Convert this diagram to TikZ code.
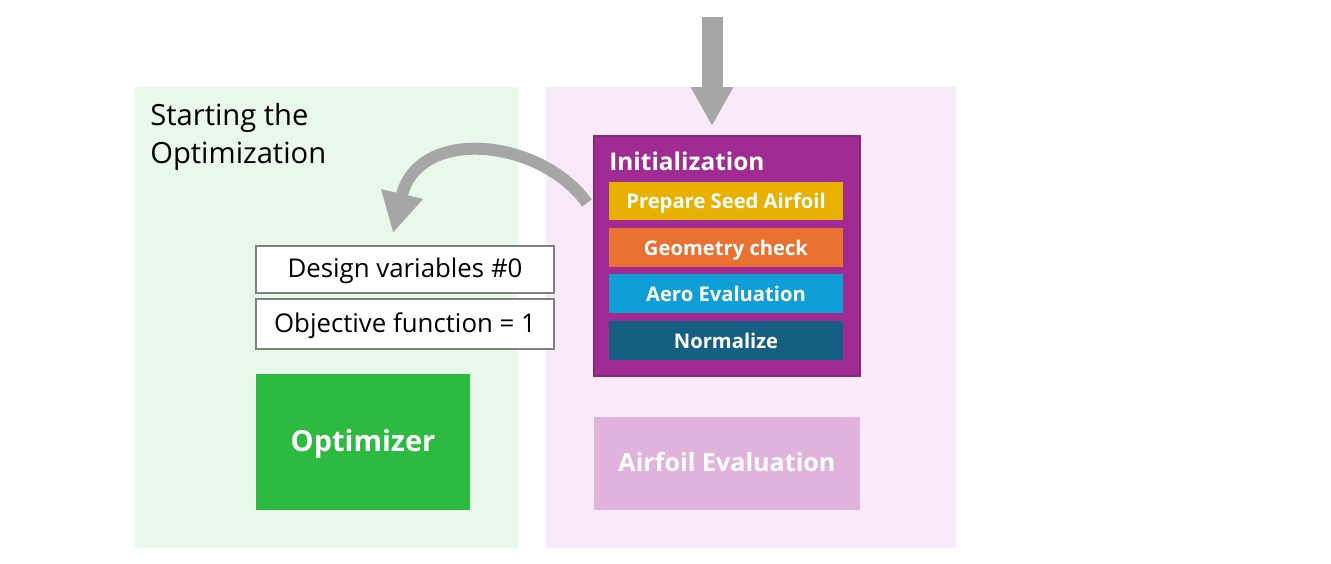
\documentclass[tikz,border=0pt]{standalone}
\usepackage{fontspec}
\setmainfont{Open Sans}
\usetikzlibrary{arrows.meta,positioning}

\definecolor{optgreenbg}{HTML}{E8F8EA}
\definecolor{evalpinkbg}{HTML}{F9EAF9}
\definecolor{initpurple}{HTML}{A02B93}
\definecolor{seedyellow}{HTML}{E8B000}
\definecolor{geoorange}{HTML}{E97132}
\definecolor{aeroblue}{HTML}{0F9ED5}
\definecolor{normblue}{HTML}{156082}
\definecolor{airfoilpink}{HTML}{DFB3DC}
\definecolor{optgreen}{HTML}{2DBA40}
\definecolor{arrowgray}{HTML}{A6A6A6}

\tikzset{
  panel/.style={minimum width=#1, minimum height=9.22cm, inner sep=0pt},
  stepbox/.style={fill=#1, minimum width=4.68cm, minimum height=0.78cm, inner sep=0pt,
    text=white, font=\fontsize{11.5}{13}\selectfont\bfseries, text height=1.7ex, text depth=0.1ex},
  valbox/.style={draw=black!50, line width=0.9pt, fill=white, minimum width=5.96cm,
    inner sep=0pt, font=\fontsize{14.7}{17}\selectfont, text height=1.9ex, text depth=0.1ex},
  bigarrow/.style={draw=arrowgray, line width=#1},
}

\begin{document}
\begin{tikzpicture}[x=0.02cm, y=-0.02cm]
\useasboundingbox (0,0) rectangle (1331,564);

% background panels
\node[panel=7.66cm, fill=optgreenbg] (optpanel) at (326.5,317.5) {};
\node[panel=8.2cm, fill=evalpinkbg] (evalpanel) at (751,317.5) {};

\node[anchor=north west, align=left, inner sep=0pt,
  font=\fontsize{16.6}{21.5}\selectfont] (starttext) at (150,103)
  {Starting the\\Optimization};

% initialization block
\node[fill=initpurple, draw=initpurple!85!black, line width=0.8pt,
  minimum width=5.32cm, minimum height=4.8cm, inner sep=0pt] (init) at (727,256) {};
\node[anchor=west, inner sep=0pt, text=white,
  font=\fontsize{13.9}{17}\selectfont\bfseries] (inittitle) at (609,161) {Initialization};
\node[stepbox=seedyellow] (seed) at (726,201) {Prepare Seed Airfoil};
\node[stepbox=geoorange] (geo) at (726,247.5) {Geometry check};
\node[stepbox=aeroblue] (aero) at (726,293.5) {Aero Evaluation};
\node[stepbox=normblue] (norm) at (726,340.5) {Normalize};

\node[fill=airfoilpink, minimum width=5.32cm, minimum height=1.86cm, inner sep=0pt,
  text=white, font=\fontsize{14.3}{17}\selectfont\bfseries,
  text height=1.8ex, text depth=0.1ex] (airfoil) at (727,463.5) {Airfoil Evaluation};

% optimizer side
\node[valbox, minimum height=0.94cm] (designvars) at (405,269.5) {Design variables \#0};
\node[valbox, minimum height=1.0cm] (objfun) at (405,324) {Objective function = 1};
\node[fill=optgreen, minimum width=4.28cm, minimum height=2.72cm, inner sep=0pt,
  text=white, font=\fontsize{16.5}{20}\selectfont\bfseries,
  text height=2.1ex, text depth=0.1ex] (optimizer) at (363,442) {Optimizer};

% arrows
\coordinate (inflow) at (712,17);
\coordinate (inithead) at (712,126);
\draw[bigarrow=0.42cm, -{Triangle[width=0.8cm,length=0.78cm]}] (inflow) -- (inithead);

\coordinate (backtail) at (587,203);
\coordinate (backhead) at (393,233);
\draw[bigarrow=0.24cm, -{Triangle[width=0.8cm,length=0.8cm]}]
  (backtail) .. controls (540,138) and (418,126) .. (backhead);
\end{tikzpicture}
\end{document}
